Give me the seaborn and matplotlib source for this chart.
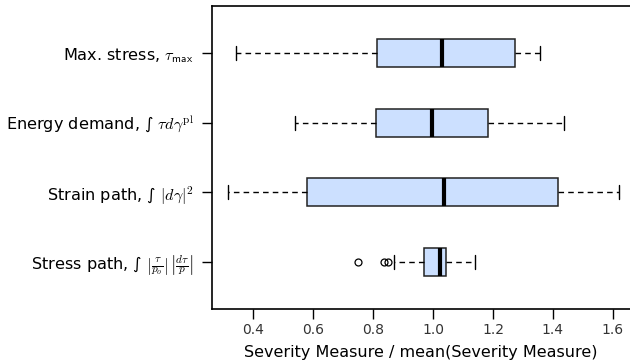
import pandas as pd
import seaborn as sns
import matplotlib.pyplot as plt

sns.set_style('ticks')
plt.rcParams['font.family'] = ['DejaVu Sans']
plt.rcParams['mathtext.fontset'] = 'cm'

# 标签（从上到下）
measures = [
    r'Max. stress, $\tau_{\mathsf{max}}$',
    r'Energy demand, ∫ $\tau d\gamma^{\mathrm{pl}}$',
    r'Strain path, ∫ $|d\gamma|^2$',
    r'Stress path, ∫ $\left|\frac{\tau}{p_o}\right|\,\left|\frac{d\tau}{p}\right|$',
]
# 五数概括：下须、Q1、中位数、Q3、上须
whisker_lo = [0.342, 0.541, 0.317, 0.871]
q1 = [0.812, 0.811, 0.581, 0.971]
median = [1.031, 0.997, 1.036, 1.022]
q3 = [1.274, 1.182, 1.418, 1.043]
whisker_hi = [1.357, 1.437, 1.620, 1.140]
outliers = [[], [], [], [0.751, 0.836, 0.849]]
xticks = [0.4, 0.6, 0.8, 1.0, 1.2, 1.4, 1.6]


def pseudo_sample(lo, a, m, b, hi, out):
    # 17个点：25%/50%/75%分位正好落在 Q1/中位数/Q3 上
    return out + [lo] * (4 - len(out)) + [a] * 4 + [m] + [b] * 7 + [hi]


rows = []
for i, name in enumerate(measures):
    for v in pseudo_sample(whisker_lo[i], q1[i], median[i], q3[i], whisker_hi[i], outliers[i]):
        rows.append({'measure': name, 'value': v})
df = pd.DataFrame(rows)

fig = plt.figure(figsize=(6.3, 3.61), dpi=100)
ax = fig.add_axes([212 / 630, 1 - 309 / 361, 1 - 212 / 630, 303 / 361])

sns.boxplot(data=df, x='value', y='measure', order=measures, orient='h',
            width=0.4, color='#cce0ff', saturation=1, linecolor='#222222',
            linewidth=1.1, whis=1.5, ax=ax,
            medianprops=dict(color='black', linewidth=3),
            whiskerprops=dict(color='black', linestyle=(0, (4, 3)), linewidth=1),
            capprops=dict(color='black', linewidth=1),
            flierprops=dict(marker='o', markerfacecolor='none', markeredgecolor='black',
                            markersize=5, markeredgewidth=0.9))

ax.set_xlim(0.263, 1.657)
ax.set_ylim(3.67, -0.67)
ax.set_xticks(xticks)
ax.set_xticklabels([f'{t:.1f}' for t in xticks], fontsize=10, color='#333333')
ax.tick_params(axis='x', bottom=True, length=7, width=1, pad=3, color='black')
ax.tick_params(axis='y', left=True, length=7, width=1, labelsize=11.6, pad=6,
               color='black', labelcolor='black')
ax.set_ylabel('')
ax.set_xlabel('Severity Measure / mean(Severity Measure)', fontsize=11.5,
              labelpad=6, color='black')
ax.spines['right'].set_visible(False)
for s in ['left', 'top', 'bottom']:
    ax.spines[s].set_linewidth(1.2)
    ax.spines[s].set_color('black')

plt.savefig('out.png', dpi=100)
